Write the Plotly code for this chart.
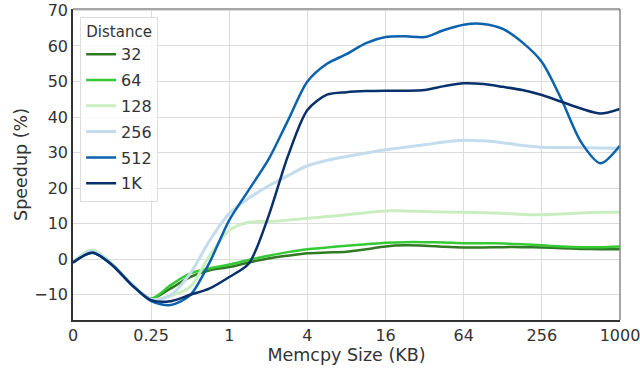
import plotly.graph_objects as go

# Memcpy sizes on an evenly spaced (log-4) axis; positions are tick indices
tick_labels = ["0", "0.25", "1", "4", "16", "64", "256", "1000"]
tick_pos = list(range(len(tick_labels)))
x_pos = [i * 0.25 for i in range(29)]

# Speedup (%) per prefetch distance, sampled every quarter tick
d32 = [-0.9, 2.3, -1.5, -7.0, -11.1, -8.2, -5.0, -3.1, -2.2, -0.9, 0.2, 1.0, 1.7,
       1.9, 2.1, 2.8, 3.6, 3.9, 3.8, 3.5, 3.3, 3.3, 3.4, 3.4, 3.3, 3.1, 2.9, 2.8, 2.8]
d64 = [-0.8, 2.6, -1.4, -7.0, -11.1, -7.3, -4.0, -2.6, -1.5, -0.2, 1.0, 2.0, 2.8,
       3.3, 3.8, 4.2, 4.6, 4.8, 4.8, 4.7, 4.5, 4.5, 4.4, 4.2, 3.9, 3.6, 3.4, 3.4, 3.6]
d128 = [-0.9, 2.5, -1.5, -7.0, -11.3, -10.3, -7.8, 1.1, 8.1, 10.4, 10.6, 11.0, 11.5,
        12.0, 12.5, 13.1, 13.6, 13.6, 13.4, 13.3, 13.2, 13.1, 12.9, 12.6, 12.5, 12.7, 13.0, 13.2, 13.2]
d256 = [-0.9, 2.3, -1.5, -7.0, -11.3, -10.1, -4.0, 5.3, 12.9, 17.2, 20.6, 23.5, 26.3,
        27.8, 28.9, 29.9, 30.8, 31.5, 32.2, 33.0, 33.5, 33.3, 32.8, 32.0, 31.5, 31.4, 31.4, 31.3, 31.2]
d512 = [-0.9, 1.8, -1.6, -7.2, -11.8, -12.9, -10.1, -0.8, 11.0, 19.5, 28.0, 39.0, 50.0,
        55.0, 57.7, 60.8, 62.5, 62.7, 62.5, 64.5, 66.0, 66.2, 64.8, 61.0, 55.5, 45.0, 33.0, 27.0, 32.0]
d1k = [-0.9, 1.8, -1.6, -7.2, -11.5, -11.8, -10.0, -8.2, -5.0, -1.2, 12.0, 29.0, 42.0,
       46.3, 47.0, 47.3, 47.4, 47.4, 47.6, 48.7, 49.5, 49.3, 48.5, 47.6, 46.2, 44.3, 42.4, 41.0, 42.3]

series_names = ["32", "64", "128", "256", "512", "1K"]
series_values = [d32, d64, d128, d256, d512, d1k]
series_colors = ["#2f7a22", "#35c935", "#c9eec0", "#c3dcee", "#0b62ad", "#08306b"]
series_widths = [2.5, 2.5, 3, 3, 2.5, 2.5]

fig = go.Figure()
for name, ys, color, w in zip(series_names, series_values, series_colors, series_widths):
    fig.add_trace(go.Scatter(
        x=x_pos, y=ys, name=name, mode="lines", legendgroup=name,
        line=dict(color=color, width=w, shape="spline", smoothing=0.8),
    ))

font = "DejaVu Sans"
fig.update_layout(
    width=640, height=368,
    margin=dict(l=73, r=20, t=9, b=48),
    paper_bgcolor="white", plot_bgcolor="white",
    font=dict(family=font, size=16, color="#333"),
    xaxis=dict(
        range=[0, 7], tickmode="array", tickvals=tick_pos, ticktext=tick_labels,
        showgrid=True, gridcolor="#dcdcdc", gridwidth=1, zeroline=False,
        showline=True, linecolor="#333", linewidth=1.5, automargin=False,
        ticks="", tickfont=dict(size=16), ticklabeloverflow="allow",
        title=dict(text="Memcpy Size (KB)", font=dict(size=17.5), standoff=4),
    ),
    yaxis=dict(
        range=[-17.1, 70.4], tickmode="array", tickvals=list(range(-10, 71, 10)),
        showgrid=True, gridcolor="#dcdcdc", gridwidth=1, zeroline=False,
        showline=True, linecolor="#333", linewidth=1.5, automargin=False,
        ticks="", tickfont=dict(size=16), ticklabeloverflow="allow",
        title=dict(text="Speedup (%)", font=dict(size=17.5), standoff=2),
    ),
    legend=dict(
        x=0.013, y=0.975, xanchor="left", yanchor="top",
        bgcolor="rgba(255,255,255,0.85)", bordercolor="#dddddd", borderwidth=1,
        font=dict(size=16, color="#333"), tracegroupgap=2,
        entrywidth=50, entrywidthmode="pixels",
        title=dict(text="Distance", side="top center", font=dict(size=15, color="#333")),
    ),
    showlegend=True,
)

# top and right frame edges
fig.add_shape(type="line", xref="paper", yref="paper", x0=0, x1=1, y0=1, y1=1,
              line=dict(color="#888", width=1.5))
fig.add_shape(type="line", xref="paper", yref="paper", x0=1, x1=1, y0=0, y1=1,
              line=dict(color="#888", width=1.5))

fig.write_html("out.html")
